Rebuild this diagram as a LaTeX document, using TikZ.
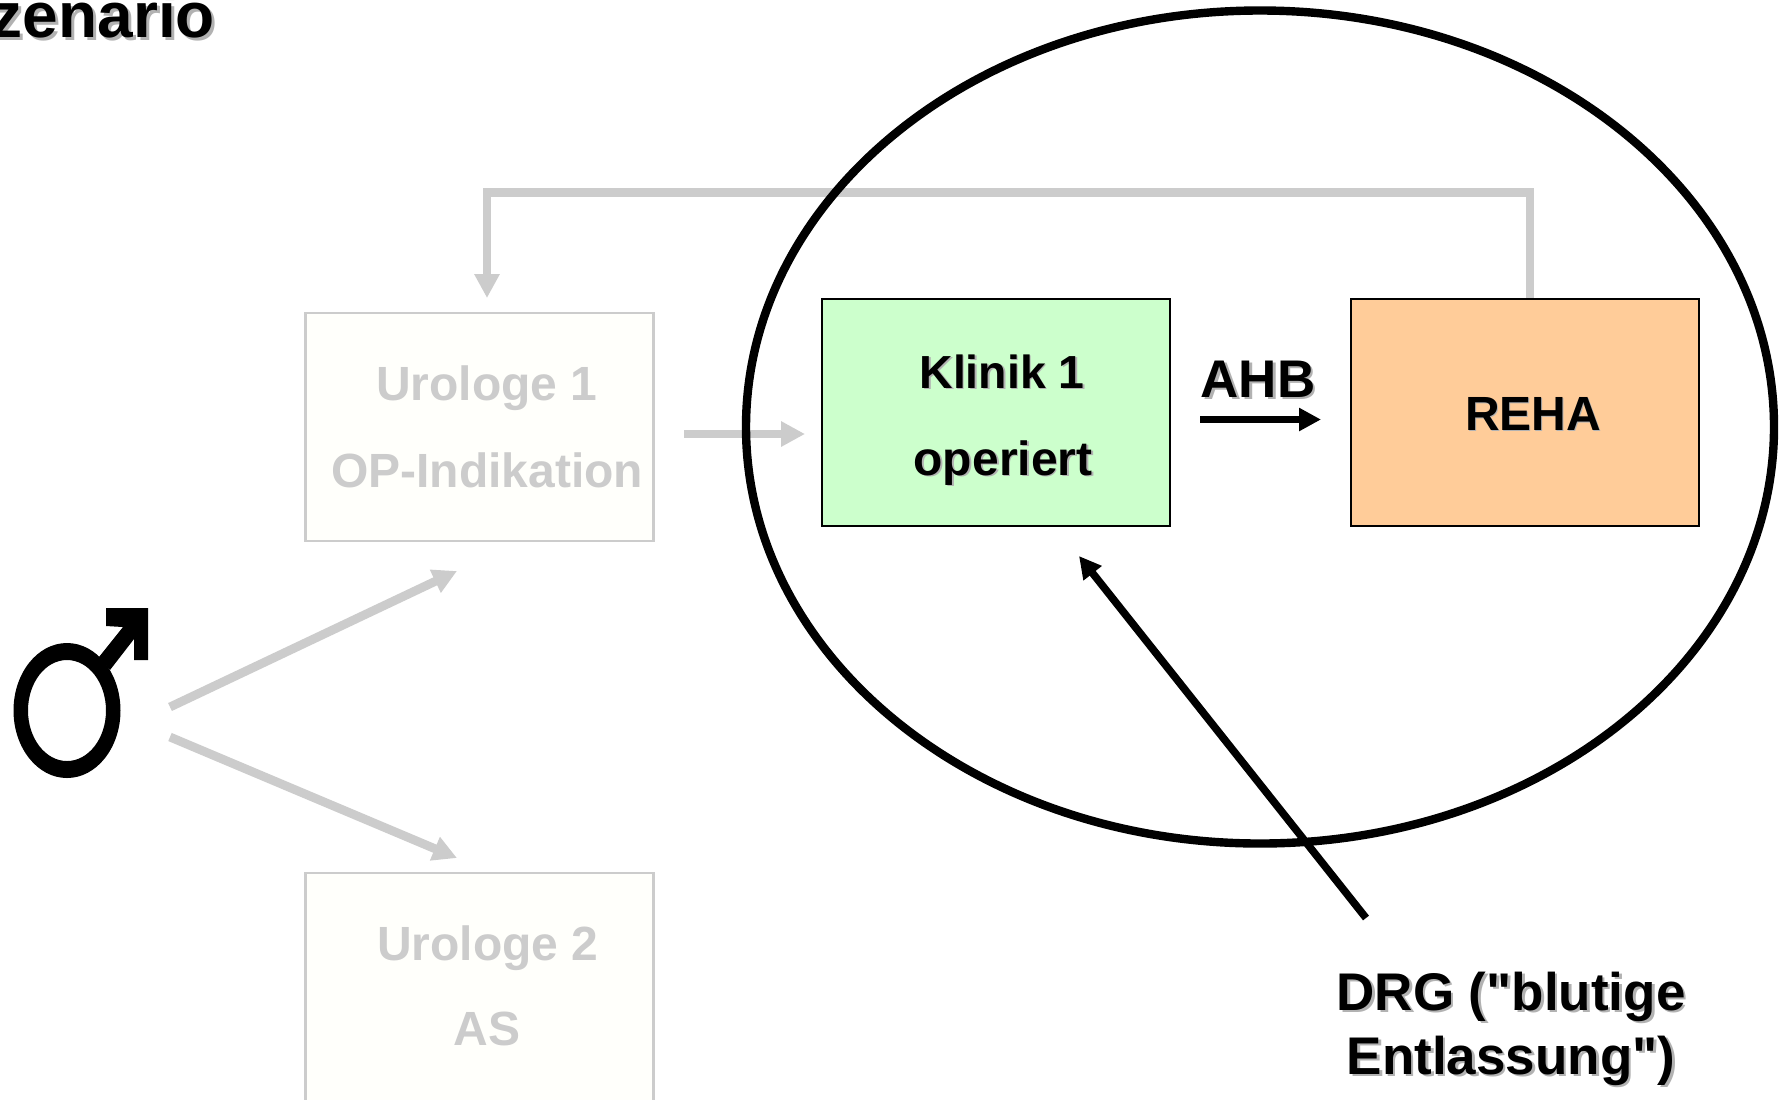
\documentclass[tikz,border=0pt]{standalone}
\usepackage{fontspec}
\setmainfont{Liberation Sans}
\newfontfamily\rawfont{Liberation Sans}
\usetikzlibrary{arrows.meta,shapes.geometric}
\definecolor{fade}{HTML}{CCCCCC}
\definecolor{fadefill}{HTML}{FFFFFB}
\definecolor{klinikfill}{HTML}{CCFFCC}
\definecolor{rehafill}{HTML}{FFCC99}
\definecolor{shadowgrey}{HTML}{B2B2B2}
\newcommand{\shtext}[2][1.3pt]{\leavevmode\rlap{\kern#1\raisebox{-#1}{\textcolor{shadowgrey}{#2}}}#2}
\tikzset{
  x=0.5pt,y=-0.5pt,
  lbl/.style={inner sep=0pt,outer sep=0pt,anchor=base,font=\bfseries\fontsize{24pt}{28pt}\selectfont},
  fadelbl/.style={lbl,text=fade},
  fadebox/.style={draw=fade,line width=1.3pt,fill=fadefill,inner sep=0pt,outer sep=0pt},
  solidbox/.style={draw=black,line width=1pt,inner sep=0pt,outer sep=0pt},
  fadearrow/.style={draw=fade,line width=4.4pt,-{Triangle[length=12pt,width=12pt]}},
  blackarrow/.style={draw=black,line width=3.8pt,-{Triangle[length=11pt,width=11pt]}},
  symbolfill/.style={fill=black,draw=none}
}
\begin{document}
\begin{tikzpicture}
\useasboundingbox (0,0) rectangle (1780,1099);
\clip (0,0) rectangle (1780,1099);
\fill[white] (0,0) rectangle (1780,1099);
% coordinates for connector ends
\coordinate (loopA) at (1530,192.5);
\coordinate (loopB) at (487,192.5);
\coordinate (loopEnd) at (487,298);
\coordinate (midStart) at (684,434);
\coordinate (midEnd) at (805,434);
\coordinate (manUp) at (170,707);
\coordinate (manUpEnd) at (457,571);
\coordinate (manDown) at (170,737);
\coordinate (manDownEnd) at (457,858);
\coordinate (ahbStart) at (1200,419.5);
\coordinate (ahbEnd) at (1321,419.5);
\coordinate (drgStart) at (1366,918);
\coordinate (drgEnd) at (1079,556);
% boxes in grey
\node[fadebox,minimum width=174pt,minimum height=114pt] (uro1) at (479.5,427) {};
\node[fadebox,minimum width=174pt,minimum height=150pt] (uro2) at (479.5,1023) {};
% grey connectors
\draw[fadearrow,line join=miter] (1530,298) -- (loopA) -- (loopB) -- (loopEnd);
\draw[fadearrow] (midStart) -- (midEnd);
\draw[fadearrow] (manUp) -- (manUpEnd);
\draw[fadearrow] (manDown) -- (manDownEnd);
% big ellipse
\node[draw=black,line width=4.2pt,ellipse,inner sep=0pt,minimum width=514pt,minimum height=416.5pt] (ring) at (1260,427) {};
% boxes
\node[solidbox,fill=klinikfill,minimum width=174pt,minimum height=113.5pt] (klinik) at (995.5,412) {};
\node[solidbox,fill=rehafill,minimum width=174pt,minimum height=113.5pt] (reha) at (1525,412) {};
% black connectors
\draw[blackarrow] (ahbStart) -- (ahbEnd);
\draw[blackarrow] (drgStart) -- (drgEnd);
% labels
\node[fadelbl] (t1) at (487,400) {Urologe 1};
\node[fadelbl] (t2) at (487,487) {OP-Indikation};
\node[fadelbl] (t3) at (488,960) {Urologe 2};
\node[fadelbl] (t4) at (487,1045) {AS};
\node[lbl,font=\bfseries\fontsize{23.2pt}{28pt}\selectfont] (t5) at (1002,388) {\shtext[0.9pt]{Klinik 1}};
\node[lbl] (t6) at (1003,475) {\shtext[0.9pt]{operiert}};
\node[lbl,font=\bfseries\fontsize{26.5pt}{30pt}\selectfont] (t7) at (1258,397) {\shtext{AHB}};
\node[lbl] (t8) at (1533,430.5) {\shtext[0.5pt]{REHA}};
\node[lbl,font=\rawfont\bfseries\fontsize{26.5pt}{30pt}\selectfont] (t9) at (1511,1010) {\shtext{DRG ("blutige}};
\node[lbl,font=\rawfont\bfseries\fontsize{26.5pt}{30pt}\selectfont] (t10) at (1511,1074) {\shtext{Entlassung")}};
\node[lbl,anchor=base east,font=\bfseries\fontsize{32pt}{36pt}\selectfont] (t11) at (215,37) {\shtext[1.5pt]{zenario}};
% male symbol
\fill[symbolfill,even odd rule] (67,710.5) ellipse [x radius=53.5,y radius=67.5] (67,710.5) ellipse [x radius=39,y radius=50.5];
\fill[symbolfill] (106,608) -- (148,608) -- (148,660) -- (134,660) -- (134,639) -- (110,670) -- (99,657) -- (123,627) -- (106,626) -- cycle;
\end{tikzpicture}
\end{document}
